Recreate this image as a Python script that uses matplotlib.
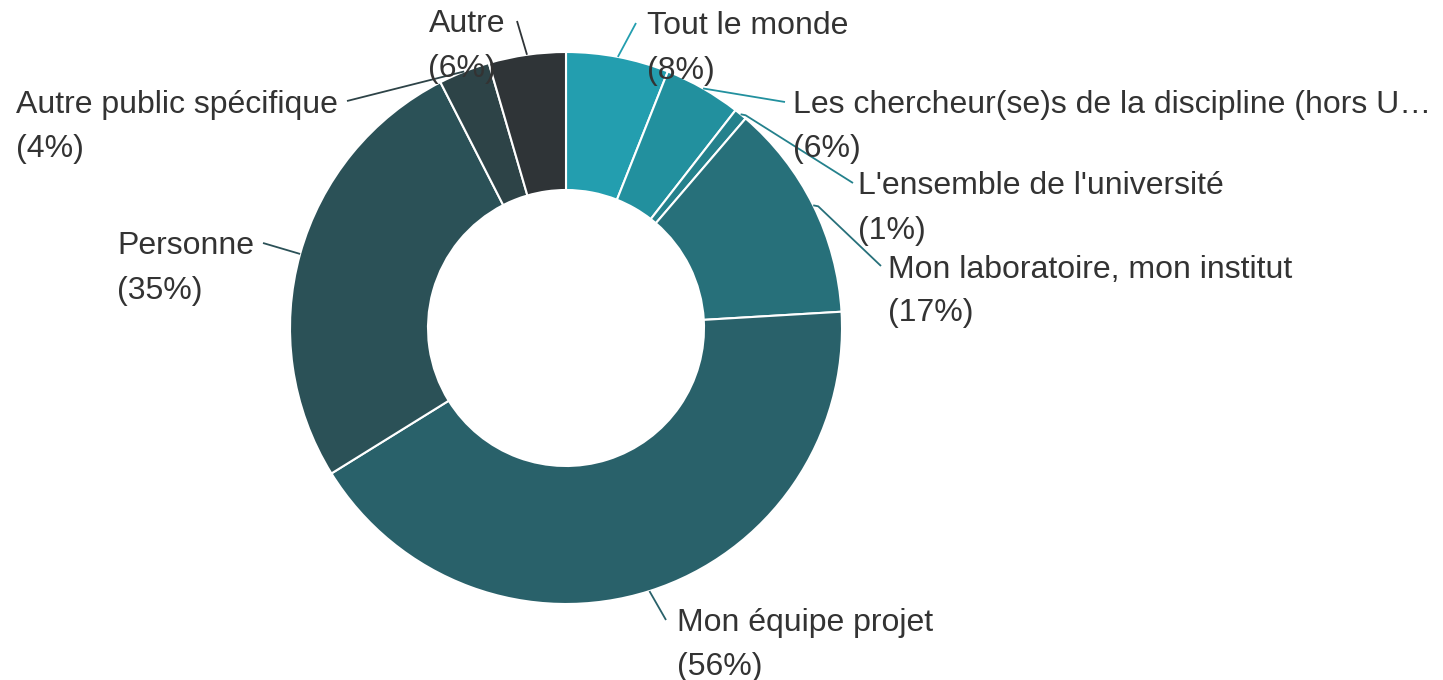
import numpy as np
import matplotlib
matplotlib.use("Agg")
import matplotlib.pyplot as plt

# ---- data ----
categories = ["Tout le monde",
              "Les chercheur(se)s de la discipline (hors U…",
              "L'ensemble de l'université",
              "Mon laboratoire, mon institut",
              "Mon équipe projet",
              "Personne",
              "Autre public spécifique",
              "Autre"]
values = [8, 6, 1, 17, 56, 35, 4, 6]
pct_labels = ["(8%)", "(6%)", "(1%)", "(17%)", "(56%)", "(35%)", "(4%)", "(6%)"]
colors = ["#239eaf", "#22909e", "#24818c", "#27707a", "#29616a",
          "#2b5157", "#2d4347", "#2f3437"]

# ---- layout (pixel coordinates, y downward) ----
W, H = 1443, 680
cx, cy, R, ring = 566, 328, 276, 138
# label anchor: (end of leader x, end y, text x, side, kink)
layout = [
    (636, 23, 647, "left", 0),
    (785, 102, 793, "left", 0),
    (853, 183, 858, "left", 5),
    (881, 266, 888, "left", 5),
    (666, 620, 677, "left", 0),
    (263, 243, 254, "right", 0),
    (347, 101, 338, "right", 0),
    (517, 21, 505, "right", 0),
]

plt.rcParams['font.family'] = ['Liberation Sans', 'DejaVu Sans']
fig = plt.figure(figsize=(W / 100, H / 100), dpi=100)
ax = fig.add_axes([0, 0, 1, 1])
ax.pie(values, colors=colors, startangle=-90, counterclock=True,
       center=(cx, cy), radius=R,
       wedgeprops=dict(width=ring, edgecolor="white", linewidth=1.5))
ax.set_xlim(0, W)
ax.set_ylim(H, 0)
ax.set_aspect("equal")
ax.axis("off")

fs = 23.0
tcol = "#333333"
lsp = 44
boff = 11.5
total = sum(values)
cum = 0
fig.canvas.draw()
renderer = fig.canvas.get_renderer()
for i, v in enumerate(values):
    mid = -90 + (cum + v / 2) / total * 360
    cum += v
    th = np.deg2rad(mid)
    sx, sy = cx + R * np.cos(th), cy + R * np.sin(th)
    ex, ey, tx, side, kink = layout[i]
    xs = [sx]
    ys = [sy]
    if kink:
        xs.append(sx + kink)
        ys.append(sy + 1)
    xs.append(ex)
    ys.append(ey)
    ax.plot(xs, ys, color=colors[i], lw=1.3, solid_capstyle="butt", zorder=1)
    if side == "left":
        ax.text(tx, ey + boff, categories[i], ha="left", va="baseline", fontsize=fs, color=tcol)
        ax.text(tx, ey + boff + lsp, pct_labels[i], ha="left", va="baseline", fontsize=fs, color=tcol)
    else:
        t = ax.text(tx, ey + boff, categories[i], ha="right", va="baseline", fontsize=fs, color=tcol)
        bb = t.get_window_extent(renderer=renderer)
        left_data = ax.transData.inverted().transform((bb.x0, 0))[0]
        ax.text(left_data, ey + boff + lsp, pct_labels[i], ha="left", va="baseline",
                fontsize=fs, color=tcol)

fig.savefig("out.png", dpi=100, facecolor="white")
